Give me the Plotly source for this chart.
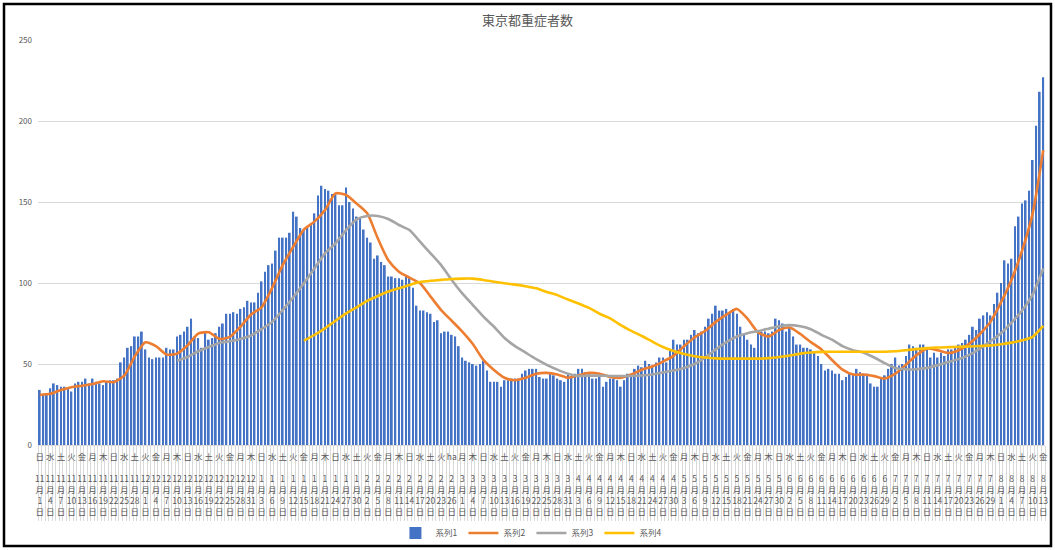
import plotly.graph_objects as go
import pandas as pd

# ---------------- data ----------------
start_date = "2020-11-01"
n_days = 286

# 系列1: daily severe cases (Nov 1 2020 .. Aug 13 2021)
nov = [34,31,32,35,38,37,36,36,35,33,38,39,39,41,38,41,39,38,37,39,40,40,41,51,54,60,61,67,67,70]
dec = [59,54,53,54,54,54,60,59,59,67,68,70,73,78,67,66,60,70,65,66,69,73,75,81,81,82,81,84,85,89,88]
jan = [88,94,101,107,111,112,120,128,128,128,131,144,141,134,133,135,137,143,154,160,158,157,155,155,148,148,159,150,146,141,140]
feb = [133,128,125,115,117,113,111,104,104,103,103,102,104,103,97,86,83,83,82,81,76,77,69,70,70,68,67,61]
mar = [54,52,51,50,49,50,52,46,39,39,39,36,40,40,41,41,41,44,46,47,47,47,42,41,41,44,43,41,40,39,44]
apr = [42,44,47,47,45,44,41,41,43,36,39,41,41,40,36,40,44,44,47,49,48,52,50,49,51,54,54,51,58,65]
may = [62,62,65,65,68,71,69,70,73,78,81,86,83,83,84,82,84,81,73,68,65,62,60,70,70,70,69,70,78,77,75]
jun = [70,73,67,62,62,60,60,59,57,55,50,46,47,46,44,44,40,42,44,44,47,45,44,44,38,36,36,41,43,47]
jul = [50,54,49,50,55,62,61,60,62,62,59,54,57,54,57,55,59,59,60,62,63,65,68,73,71,78,80,82,80,87,94]
aug = [100,114,112,115,135,141,149,151,157,176,197,218,227]
series1 = nov + dec + jan + feb + mar + apr + may + jun + jul + aug

# lines, read every 3rd day
s2_start = 0
series2 = [31,31.6,34,35.7,36.6,37.6,39.3,38.8,42.8,54.8,63.4,61,55.8,56.4,61.6,68.8,69.6,65.5,
           66.7,73,80.6,85,97,111,122.4,133,137.9,145,155.3,154.3,149,143,127.6,114,107,103.3,
           99.8,91.6,83.3,76.7,70,62.3,52.5,46.3,41.5,40,41.5,44,44.5,43.5,41.5,43,44.5,44,42,
           41.5,43.5,46.5,48.5,51.5,55,61,66.5,70.5,76,80.5,84,78,69.5,67,71,72.5,68.5,63.5,59,
           52.5,46.5,43.5,43.5,42.5,41,44,49.5,55.5,59.5,58.5,56.8,58.5,62.5,68.5,76,88,102,120,
           143,182]
s3_start = 39
series3 = [52,54.3,57.9,60.5,63,64,65.5,67.6,71.5,76,83.3,91.2,99.8,109,118.3,124.5,132.7,139.3,
           141.4,141.4,139.5,135.8,132.7,125.5,118.3,111,101.9,93.6,86.4,79.2,73,66,61,57,53,
           49.5,46.5,44,42.6,42.8,42.8,42.6,42.6,42.6,42.9,43.5,44.8,46,47.6,50,54,59,63.5,67,
           69,70.3,71.8,73.3,74,73.3,71.5,68,65,61,58.5,57,54,50.5,47.5,46.7,46.8,47.6,49.3,
           51.2,53,55.6,59.5,64,69,75.5,83,93,109]
s4_start = 75
series4 = [64.4,67.9,72,76.7,81.3,85,89,92,94.7,96.7,98.8,100.6,101.4,101.9,102.5,102.7,102.7,
           101.9,100.8,99.8,99,98,96.7,94.5,92.5,89.8,87.3,84.6,81,78.2,74,70.5,67.3,63.8,60.5,
           58,56.2,54.8,54,53.5,53.3,53.3,53.3,53.3,53.6,54.3,55.2,56.4,57.1,57.5,57.6,57.6,57.6,
           57.6,57.6,57.6,57.9,58.5,59.2,59.8,60.2,60.4,60.6,60.8,61.1,61.5,62.2,63.2,64.6,66.8,
           73.5]

series_names = ["系列1", "系列2", "系列3", "系列4"]
title_text = "東京都重症者数"
y_ticks = [0, 50, 100, 150, 200, 250]

dates = pd.date_range(start_date, periods=n_days)
days = list(range(n_days))
wd_names = ["月", "火", "水", "木", "金", "土", "日"]
label_days = list(range(0, n_days, 3))
label_override = {"2021-02-26": "ha"}
tick_text = []
for i in label_days:
    dt = dates[i]
    wd = label_override.get(dt.strftime("%Y-%m-%d"), wd_names[dt.weekday()])
    tick_text.append(f"{wd}<br><br>{dt.month}<br>月<br>{dt.day}<br>日")

def sampled(start, vals):
    return list(range(start, start + 3 * len(vals), 3)), vals

# ---------------- figure ----------------
FONT = "Noto Sans CJK JP, Noto Sans, sans-serif"
TXT = "#595959"

fig = go.Figure()
fig.add_trace(go.Bar(x=days, y=series1, name=series_names[0],
                     marker=dict(color="#4472C4", line=dict(width=0)), width=0.5))
for (start, vals), name, col in [
        (sampled(s2_start, series2), series_names[1], "#ED7D31"),
        (sampled(s3_start, series3), series_names[2], "#A5A5A5"),
        (sampled(s4_start, series4), series_names[3], "#FFC000")]:
    fig.add_trace(go.Scatter(x=start, y=vals, name=name, mode="lines",
                             line=dict(color=col, width=2.6, shape="spline", smoothing=0.6)))

W, H = 1055, 550
ml, mr, mt, mb = 38, 10, 40, 105
pw, ph = W - ml - mr, H - mt - mb

def px_x(p):
    return (p - ml) / pw

def px_y(p):
    return (H - mb - p) / ph

fig.update_layout(
    width=W, height=H,
    margin=dict(l=ml, r=mr, t=mt, b=mb, autoexpand=False),
    paper_bgcolor="white", plot_bgcolor="white",
    font=dict(family=FONT, color=TXT, size=9),
    title=dict(text=title_text, x=0.5, xref="container", xanchor="center",
               y=1 - 20 / H, yref="container", yanchor="middle",
               font=dict(size=13, color=TXT, family=FONT)),
    showlegend=True,
    legend=dict(orientation="h", x=0.49, xanchor="center", y=px_y(533), yanchor="middle",
                font=dict(size=8.5, color=TXT), itemwidth=30, entrywidth=23,
                entrywidthmode="pixels", bgcolor="rgba(0,0,0,0)"),
    xaxis=dict(range=[-0.5, n_days - 0.5], tickmode="array", tickvals=label_days,
               ticktext=tick_text, tickangle=0, ticks="", showgrid=False, zeroline=False,
               showline=True, linecolor="#D9D9D9", linewidth=1, automargin=False,
               ticklabelstandoff=4,
               tickfont=dict(size=8.5, color=TXT, family=FONT),
               minor=dict(tickmode="linear", tick0=0.5, dtick=1, ticks="outside",
                          ticklen=75, tickcolor="#D9D9D9", tickwidth=1, showgrid=False)),
    yaxis=dict(range=[0, 250], tickmode="array", tickvals=y_ticks, showgrid=True,
               gridcolor="#D9D9D9", gridwidth=1, zeroline=False, showline=False,
               automargin=False, ticklabelstandoff=5,
               tickfont=dict(size=8, color=TXT, family=FONT), ticks=""),
    shapes=[dict(type="rect", xref="paper", yref="paper",
                 x0=px_x(4), x1=px_x(1051), y0=px_y(546), y1=px_y(4),
                 line=dict(color="black", width=2.5), fillcolor="rgba(0,0,0,0)", layer="above")],
)

fig.write_html("out.html", config={"displayModeBar": False},
               post_script="document.body.style.margin='0';document.body.style.overflow='hidden';")
